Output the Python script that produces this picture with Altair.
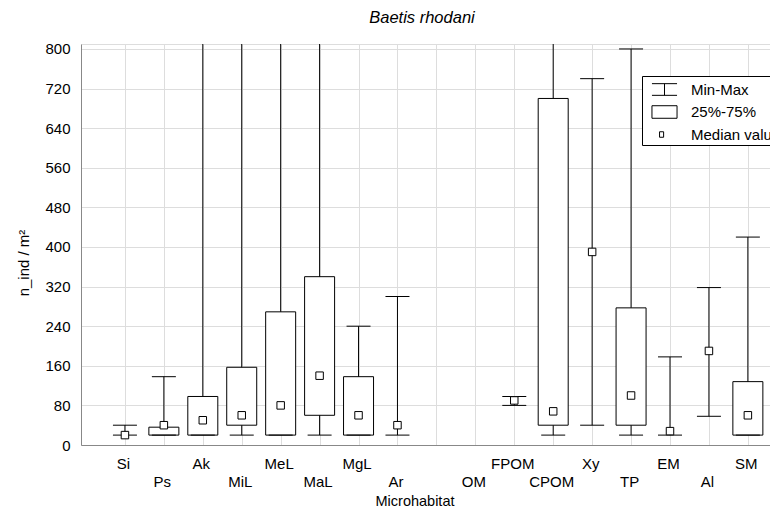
import json
import altair as alt
import pandas as pd

# ---- data (n_ind / m2 per microhabitat) ----
categories = ["Si", "Ps", "Ak", "MiL", "MeL", "MaL", "MgL", "Ar", "", "OM",
              "FPOM", "CPOM", "Xy", "TP", "EM", "Al", "SM"]
positions = list(range(1, len(categories) + 1))
# None = not drawn; 1000 = whisker runs beyond the top of the axis
mins = [20, 20, 20, 20, 20, 20, 20, 20, None, None, 80, 20, 40, 20, 20, 58, 20]
q1s = [None, 20, 20, 40, 20, 60, 20, None, None, None, None, 40, None, 40, None, None, 20]
meds = [20, 40, 50, 60, 80, 140, 60, 40, None, None, 90, 68, 390, 100, 28, 190, 60]
q3s = [None, 36, 98, 157, 269, 340, 138, None, None, None, None, 700, None, 277, None, None, 128]
maxs = [40, 138, 1000, 1000, 1000, 1000, 240, 300, None, None, 98, 1000, 740, 800, 178, 318, 420]
y_ticks = list(range(0, 801, 80))

legend_items = ["Min-Max", "25%-75%", "Median value"]
legend_paths = [
    "M-1.14,-0.53H1.14M0,-0.53V0.53M-1.14,0.53H1.14",
    "M-1.14,-0.57H1.14V0.57H-1.14Z",
    "M-0.45,-0.25H-0.08V0.25H-0.45Z",
]

df = pd.DataFrame({"cat": categories, "pos": positions, "min": mins, "q1": q1s,
                   "med": meds, "q3": q3s, "max": maxs})
legend_df = pd.DataFrame({"item": legend_items})

FONT = "Liberation Sans"
arr = json.dumps(categories)
label_expr = (f"datum.value % 2 == 0 ? ['', {arr}[datum.value - 1]] : "
              f"{arr}[datum.value - 1]")

x_axis = alt.Axis(values=positions, labelExpr=label_expr, grid=True, ticks=False,
                  tickSize=0, labelPadding=23, labelBaseline="alphabetic",
                  labelLineHeight=18.4, labelOverlap=False, labelFlush=False,
                  labelOffset=-2, labelFontSize=15, labelFont=FONT,
                  title="Microhabitat", titleX=333.5, titleY=60.5,
                  titleBaseline="alphabetic", titleFontSize=14.5,
                  titleFontWeight="normal", titleFont=FONT)
y_axis = alt.Axis(values=y_ticks, grid=True, ticks=False, tickSize=0, labelPadding=11,
                  labelFontSize=15, labelFont=FONT, title="n_ind / m²",
                  titleX=-53, titleY=218.5, titleBaseline="alphabetic",
                  titleFontSize=15, titleFontWeight="normal", titleFont=FONT)
x_scale = alt.Scale(domain=[0, 17.44], nice=False, zero=False)
y_scale = alt.Scale(domain=[0, 810], nice=False, zero=True)


def X():
    return alt.X("pos:Q", scale=x_scale, axis=x_axis)


def Y(field):
    return alt.Y(field, type="quantitative", scale=y_scale, axis=y_axis)


base = alt.Chart(df)

whisker = base.transform_filter("isValid(datum.min)").mark_rule(
    color="black", strokeWidth=1, clip=True
).encode(x=X(), y=Y("min"), y2=alt.Y2("max"))

box = base.transform_filter("isValid(datum.q1)").mark_bar(
    size=30, fill="white", stroke="black", strokeWidth=1, orient="vertical", opacity=1
).encode(x=X(), y=Y("q1"), y2=alt.Y2("q3"))

caps = base.transform_fold(["min", "max"], as_=["k", "v"]).transform_filter(
    "isValid(datum.v)"
).mark_tick(orient="horizontal", size=24, thickness=1, color="black", opacity=1,
            clip=True).encode(x=X(), y=Y("v"))

median = base.transform_filter("isValid(datum.med)").mark_square(
    size=56, fill="white", stroke="black", strokeWidth=1, opacity=1
).encode(x=X(), y=Y("med"))

legend_layer = alt.Chart(legend_df).mark_point(
    opacity=0, color="black", strokeWidth=1
).encode(
    shape=alt.Shape("item:N", scale=alt.Scale(domain=legend_items, range=legend_paths),
                    legend=alt.Legend(title=None, orient="none", legendX=561, legendY=32,
                                      fillColor="white", strokeColor="black", padding=2,
                                      cornerRadius=0, symbolSize=484, symbolOffset=9,
                                      labelOffset=15, labelFontSize=15, labelFont=FONT,
                                      labelColor="black", rowPadding=2.5,
                                      symbolStrokeColor="black", symbolStrokeWidth=1,
                                      symbolOpacity=1, labelLimit=250))
)

chart = alt.layer(whisker, box, caps, median, legend_layer).properties(
    width=689, height=401,
    title=alt.Title("Baetis rhodani", fontStyle="italic", fontSize=16.5, font=FONT,
                    fontWeight="normal", anchor="middle", frame="group", offset=9,
                    baseline="alphabetic", dx=-3.5, dy=7, color="black"),
    autosize=alt.AutoSizeParams(type="none"),
    padding={"left": 73, "top": 36, "right": 0, "bottom": 64},
).configure_view(stroke="black", strokeWidth=1).configure_axis(
    domainColor="black", domainWidth=1, labelColor="black", titleColor="black",
    titleFont=FONT, titleFontWeight="normal", gridColor="#b4b4b4",
    gridDash=[1, 4], gridWidth=1
).configure(background="white")

chart.save("out.html", embed_options={"renderer": "svg", "actions": False})
